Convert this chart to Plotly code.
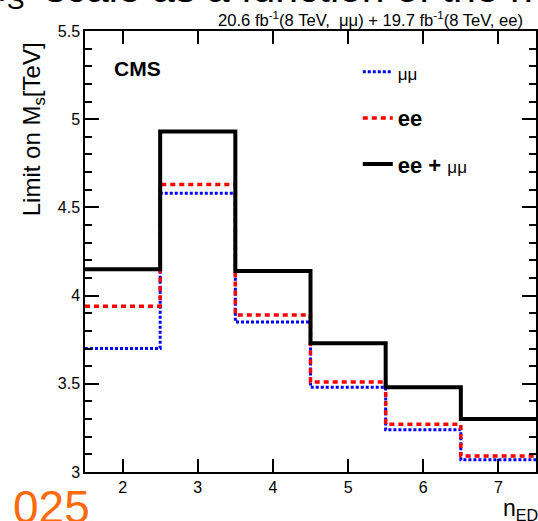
import plotly.graph_objects as go

# n_ED bin edges and the 95% CL lower limits on M_S (TeV) per bin
bin_edges = [1.5, 2.5, 3.5, 4.5, 5.5, 6.5, 7.5]
limit_mumu = [3.70, 4.58, 3.85, 3.48, 3.24, 3.07]
limit_ee = [3.94, 4.63, 3.89, 3.51, 3.27, 3.09]
limit_comb = [4.15, 4.93, 4.14, 3.73, 3.48, 3.30]

x_ticks = [2, 3, 4, 5, 6, 7]
y_ticks = [3, 3.5, 4, 4.5, 5, 5.5]
y_tick_text = ["3", "3.5", "4", "4.5", "5", "5.5"]

W, H = 538, 521
ML, MR, MT, MB = 85, 0, 31, 49
PW, PH = W - ML - MR, H - MT - MB
FONT = "Liberation Sans, Arial, Helvetica, sans-serif"


def px(x):
    return (x - ML) / PW


def py(y):
    return (H - MB - y) / PH


def step(vals):
    # histogram outline: one point per bin edge, last value repeated
    return list(vals) + [vals[-1]]


MU = '<span style="font-size:17px">μμ</span>'

fig = go.Figure()
fig.add_trace(go.Scatter(
    x=bin_edges, y=step(limit_mumu), mode="lines", line_shape="hv",
    line=dict(color="#0000ff", width=3, dash="3px,2px"),
    name=MU, legendgroup="a"))
fig.add_trace(go.Scatter(
    x=bin_edges, y=step(limit_ee), mode="lines", line_shape="hv",
    line=dict(color="#ff0000", width=3.5, dash="5px,4px"),
    name="<b>ee</b>", legendgroup="b"))
fig.add_trace(go.Scatter(
    x=bin_edges, y=step(limit_comb), mode="lines", line_shape="hv",
    line=dict(color="#000000", width=4),
    name="<b>ee +</b> " + MU, legendgroup="c"))

axis_common = dict(
    showline=True, linecolor="black", linewidth=1.5, mirror="ticks",
    ticks="inside", tickcolor="black", tickwidth=1.5,
    showgrid=False, zeroline=False,
    tickfont=dict(family=FONT, size=16, color="black"),
)

fig.update_xaxes(range=[1.5, 7.5], tickvals=x_ticks, ticklen=13, **axis_common)
fig.update_yaxes(range=[3, 5.5], tickvals=y_ticks, ticktext=y_tick_text, ticklen=14,
                 minor=dict(dtick=0.1, ticklen=7, tickwidth=1.5, tickcolor="black",
                            ticks="inside", showgrid=False),
                 **axis_common)

annotations = [
    # CMS label
    dict(text="<b>CMS</b>", x=px(112), y=py(68), xanchor="left", yanchor="middle",
         font=dict(family=FONT, size=21, color="black")),
    # luminosity / energy label
    dict(text="20.6 fb<sup>-1</sup>(8 TeV,&nbsp;&nbsp;μμ) + 19.7 fb<sup>-1</sup>(8 TeV, ee)",
         x=px(527), y=py(19.5), xanchor="right", yanchor="middle",
         font=dict(family=FONT, size=16.6, color="black")),
    # axis titles
    dict(text="Limit on M<sub>s</sub>[TeV]", x=px(33), y=py(129), textangle=-90,
         xanchor="center", yanchor="middle",
         font=dict(family=FONT, size=24, color="black")),
    dict(text="n<sub>ED</sub>", x=px(503), y=py(493), xanchor="left", yanchor="top",
         font=dict(family=FONT, size=23, color="black")),
    # heading above the figure
    dict(text="M<sub>S</sub>", x=px(-27), y=py(-9), xanchor="left", yanchor="middle",
         font=dict(family=FONT, size=38, color="black")),
    dict(text="scale as a function of the n", x=px(43), y=py(-12), xanchor="left",
         yanchor="middle", font=dict(family=FONT, size=41, color="black")),
    dict(text="025", x=px(11), y=py(479), xanchor="left", yanchor="top",
         font=dict(family=FONT, size=46, color="#ff6a0d")),
]
for a in annotations:
    a.update(xref="paper", yref="paper", showarrow=False)

fig.update_layout(
    width=W, height=H,
    margin=dict(l=ML, r=MR, t=MT, b=MB, pad=0),
    paper_bgcolor="white", plot_bgcolor="white",
    showlegend=True,
    legend=dict(x=px(359), y=py(51), xanchor="left", yanchor="top",
                bgcolor="rgba(0,0,0,0)", borderwidth=0, tracegroupgap=14.5,
                font=dict(family=FONT, size=22, color="black")),
    annotations=annotations,
)

fig.write_html("out.html")
